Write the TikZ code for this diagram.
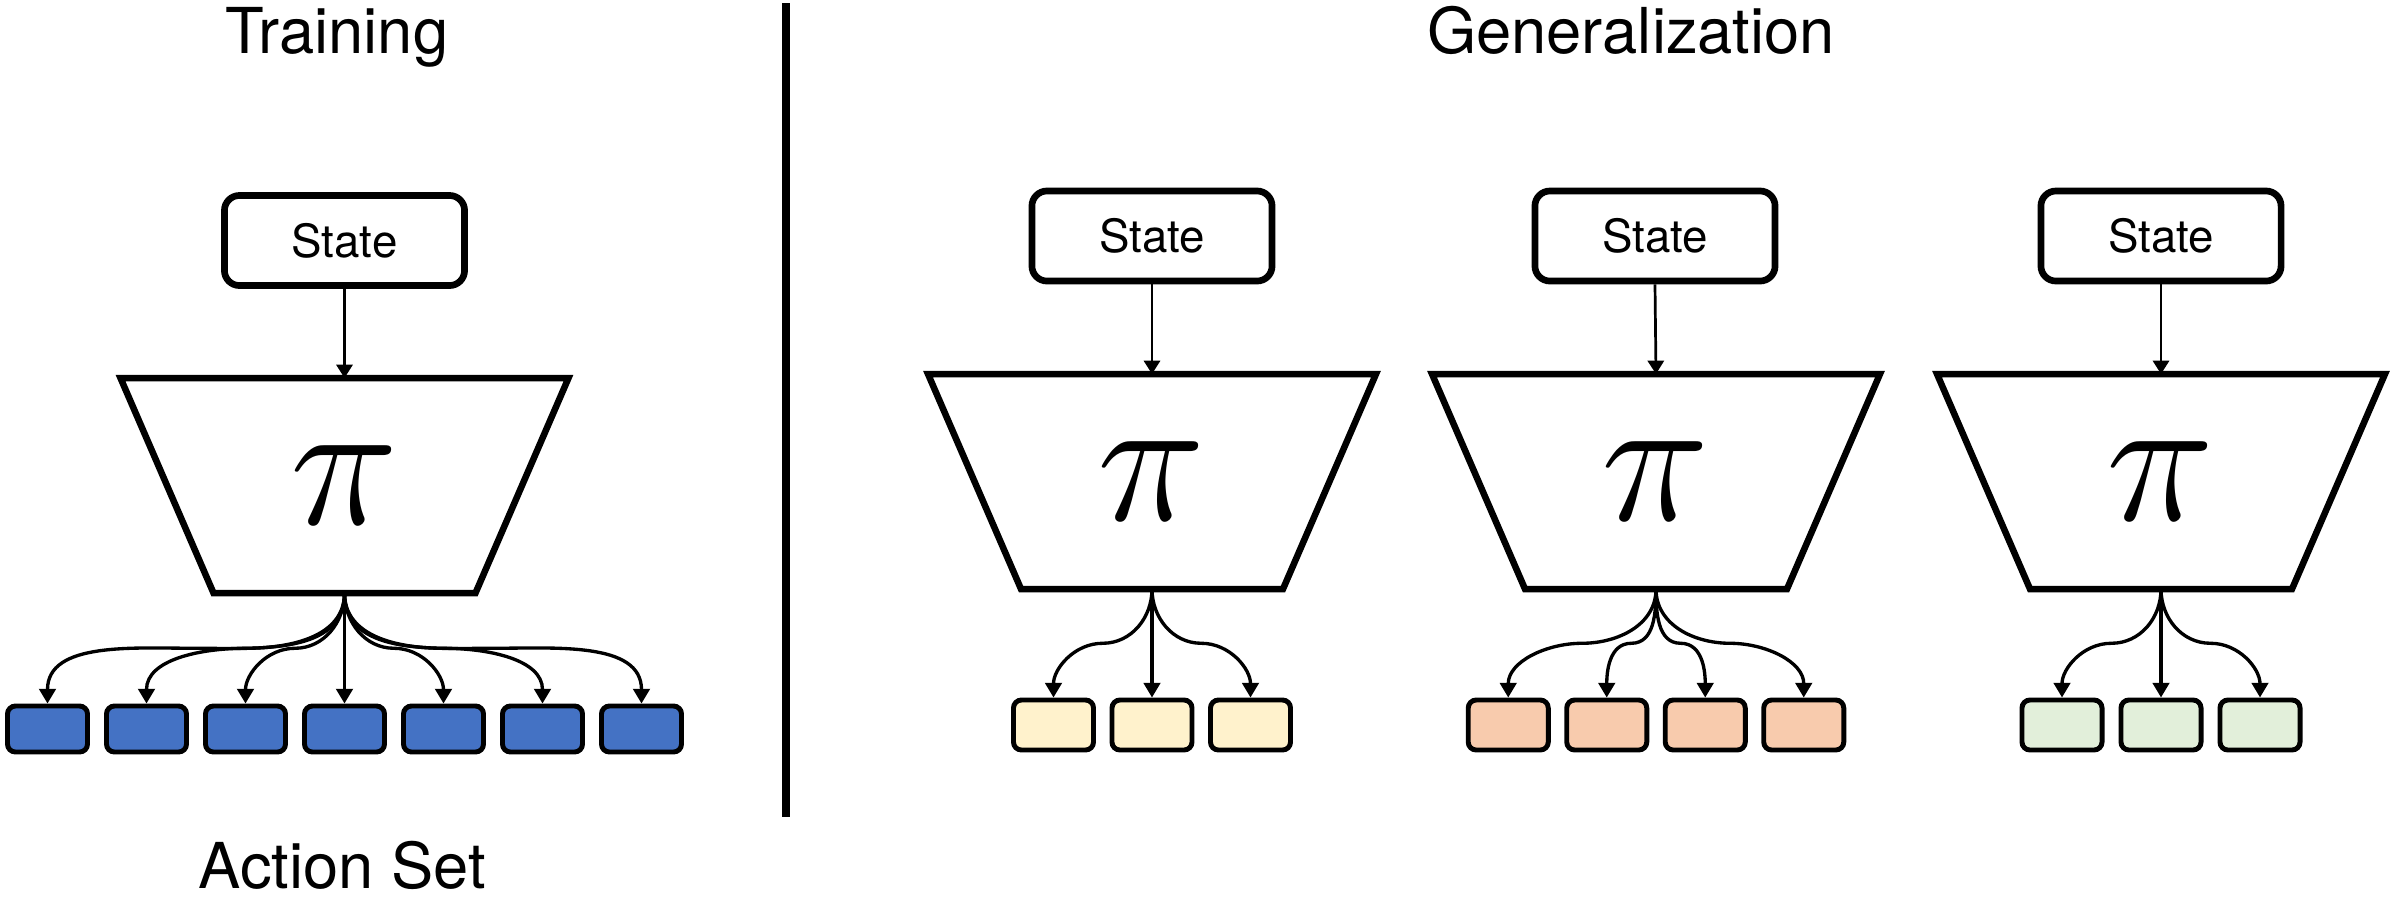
\RequirePackage{fix-cm}
\documentclass[tikz,border=0pt]{standalone}
\usepackage{fontspec}
\setmainfont{TeX Gyre Heros}
\usetikzlibrary{arrows.meta,calc}
\definecolor{actblue}{HTML}{4472C4}
\definecolor{actyellow}{HTML}{FFF2CC}
\definecolor{actorange}{HTML}{F8CBAD}
\definecolor{actgreen}{HTML}{E2EFDA}
\newcommand\policy[3]{%
  \draw[trap] (#2-224,#3) -- (#2+224,#3) -- (#2+131,#3-215) -- (#2-131,#3-215) -- cycle;
  \coordinate (#1t) at (#2,#3);
  \coordinate (#1b) at (#2,#3-215);
  \node[pinode] (#1pi) at (#2,#3-107.5) {$\pi$};
}
\newcommand\fanL[2]{\draw[fan] (#1) to[out=-90,in=0] ($(#1)!0.5!(#2.north)$) to[out=180,in=90] (#2.north);}
\newcommand\fanR[2]{\draw[fan] (#1) to[out=-90,in=180] ($(#1)!0.5!(#2.north)$) to[out=0,in=90] (#2.north);}
\newcommand\fanC[2]{\draw[fan] (#1) -- (#2.north);}
\begin{document}
\begin{tikzpicture}[x=0.01cm,y=0.01cm,
  title/.style={anchor=base,font=\fontsize{18}{20}\selectfont,inner sep=0},
  statebox/.style={draw,line width=1.9pt,rounded corners=0.15cm,minimum width=2.4cm,minimum height=0.9cm,inner sep=0,font=\fontsize{13}{15}\selectfont},
  trap/.style={draw,line width=1.85pt},
  pinode/.style={inner sep=0,font=\fontsize{52}{60}\selectfont},
  act/.style={draw,line width=1.4pt,rounded corners=0.08cm,minimum width=0.8cm,inner sep=0},
  inarrow/.style={line width=0.77pt,-{Triangle[length=3.8pt,width=4.6pt]}},
  fan/.style={line width=0.95pt,-{Triangle[length=4.2pt,width=4.7pt]}},
]
\useasboundingbox (0,-896) rectangle (2390,0);

% titles
\node[title] (ttrain) at (337,-53) {Training};
\node[title] (tgen) at (1631,-53) {Generalization};
\node[title] (tact) at (342,-888) {Action Set};

% divider
\coordinate (divtop) at (786,-3);
\coordinate (divbot) at (786,-817);
\draw[line width=2.2pt] (divtop) -- (divbot);

% ---------- training ----------
\node[statebox] (S0) at (344.5,-240.5) {State};
\policy{P0}{344.5}{-378}
\draw[inarrow] (S0.south) -- (P0t);
\foreach \i/\x in {1/47.5,2/146.5,3/245.5,4/344.5,5/443.5,6/542.5,7/641.5}
  \node[act,fill=actblue,minimum height=0.46cm] (b\i) at (\x,-729) {};
\fanL{P0b}{b1}
\fanL{P0b}{b2}
\fanL{P0b}{b3}
\fanC{P0b}{b4}
\fanR{P0b}{b5}
\fanR{P0b}{b6}
\fanR{P0b}{b7}

% ---------- generalization 1 ----------
\node[statebox] (S1) at (1152,-236) {State};
\policy{P1}{1152}{-374}
\draw[inarrow] (S1.south) -- (P1t);
\foreach \i/\x in {1/1053.5,2/1152,3/1250.5}
  \node[act,fill=actyellow,minimum height=0.5cm] (y\i) at (\x,-725) {};
\fanL{P1b}{y1}
\fanC{P1b}{y2}
\fanR{P1b}{y3}

% ---------- generalization 2 ----------
\node[statebox] (S2) at (1655,-236) {State};
\policy{P2}{1656}{-374}
\draw[inarrow] (S2.south) -- (P2t);
\foreach \i/\x in {1/1508.25,2/1606.75,3/1705.25,4/1803.75}
  \node[act,fill=actorange,minimum height=0.5cm] (o\i) at (\x,-725) {};
\fanL{P2b}{o1}
\fanL{P2b}{o2}
\fanR{P2b}{o3}
\fanR{P2b}{o4}

% ---------- generalization 3 ----------
\node[statebox] (S3) at (2161,-236) {State};
\policy{P3}{2161}{-374}
\draw[inarrow] (S3.south) -- (P3t);
\foreach \i/\x in {1/2062,2/2161,3/2260}
  \node[act,fill=actgreen,minimum height=0.5cm] (g\i) at (\x,-725) {};
\fanL{P3b}{g1}
\fanC{P3b}{g2}
\fanR{P3b}{g3}
\end{tikzpicture}
\end{document}
